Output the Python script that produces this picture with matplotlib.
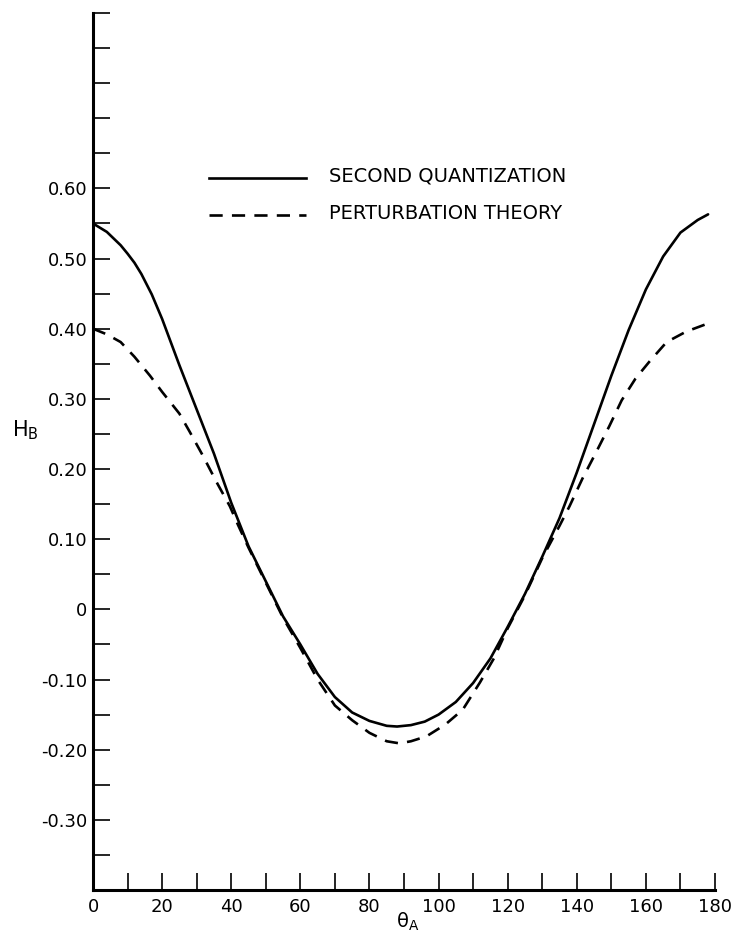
import matplotlib
matplotlib.use("Agg")
import matplotlib.pyplot as plt
import numpy as np

# ---- data ----
theta_sq = [0, 4, 8, 10, 12, 14, 17, 20, 25, 30, 35, 40, 45, 50, 55, 60, 65, 70, 75,
            80, 85, 88, 92, 96, 100, 105, 110, 115, 120, 125, 130, 135, 140, 145, 150,
            155, 160, 165, 170, 175, 178]
h_sq = [0.550, 0.538, 0.519, 0.507, 0.494, 0.478, 0.449, 0.414, 0.348, 0.285, 0.222,
        0.152, 0.090, 0.040, -0.010, -0.050, -0.092, -0.125, -0.147, -0.159, -0.166,
        -0.167, -0.165, -0.160, -0.150, -0.132, -0.105, -0.070, -0.025, 0.022, 0.075,
        0.130, 0.195, 0.264, 0.333, 0.398, 0.456, 0.503, 0.537, 0.555, 0.563]

theta_pt = [0, 4, 8, 12, 16.5, 20, 25, 28, 31.8, 35.8, 39.6, 42, 45, 50, 55, 60, 65,
            70, 75, 80, 85, 88.7, 92, 96.5, 102, 107, 112, 116, 120, 125, 130, 135,
            137.9, 141.6, 145.6, 149.4, 153, 157, 161, 166, 171.7, 177.7]
h_pt = [0.400, 0.392, 0.381, 0.360, 0.333, 0.310, 0.279, 0.253, 0.219, 0.181, 0.147,
        0.120, 0.088, 0.038, -0.012, -0.055, -0.100, -0.137, -0.158, -0.176, -0.188,
        -0.191, -0.188, -0.181, -0.164, -0.143, -0.104, -0.070, -0.027, 0.020, 0.073,
        0.119, 0.147, 0.186, 0.224, 0.261, 0.298, 0.329, 0.353, 0.381, 0.396, 0.407]

x_major = list(range(0, 181, 20))
x_minor = list(range(10, 181, 20))
y_labeled = [-0.30, -0.20, -0.10, 0.0, 0.10, 0.20, 0.30, 0.40, 0.50, 0.60]
y_label_text = ["-0.30", "-0.20", "-0.10", "0", "0.10", "0.20", "0.30", "0.40", "0.50", "0.60"]
y_minor = [-0.35, -0.25, -0.15, -0.05, 0.05, 0.15, 0.25, 0.35, 0.45, 0.55,
           0.65, 0.70, 0.75, 0.80, 0.85]

series_names = ["SECOND QUANTIZATION", "PERTURBATION THEORY"]

plt.rcParams["font.family"] = ["DejaVu Sans"]
plt.rcParams["mathtext.fontset"] = "dejavusans"

W, H = 731, 934
fig = plt.figure(figsize=(W / 100, H / 100), dpi=100)
ax = fig.add_axes([93 / W, 1 - 890 / H, (715 - 93) / W, (890 - 13) / H])

ax.plot(theta_sq, h_sq, color="black", lw=1.9, solid_capstyle="round", solid_joinstyle="round")
ax.plot(theta_pt, h_pt, color="black", lw=1.9, dashes=(5, 3.5))

ax.set_xlim(0, 180)
ax.set_ylim(-0.40, 0.85)

for s in ["top", "right"]:
    ax.spines[s].set_visible(False)
for s in ["left", "bottom"]:
    ax.spines[s].set_linewidth(2.2)

ax.set_xticks(x_major)
ax.set_xticks(x_minor, minor=True)
ax.set_xticklabels([str(v) for v in x_major])
ax.set_yticks(y_labeled)
ax.set_yticklabels(y_label_text)
ax.set_yticks(y_minor, minor=True)

ax.tick_params(which="both", direction="in", length=12.5, width=1.2, color="black")
ax.tick_params(axis="x", which="major", pad=6, labelsize=13)
ax.tick_params(axis="y", which="major", pad=4, labelsize=13)

# legend drawn as lines + text in axes data coordinates
lx0, lx1 = 33.6, 61.6
ax.plot([lx0, lx1], [0.615, 0.615], color="black", lw=1.9, clip_on=False)
ax.plot([lx0, lx1], [0.5625, 0.5625], color="black", lw=1.9, dashes=(5, 3.5), clip_on=False)
ax.text(68.3, 0.617, series_names[0], fontsize=14, va="center", ha="left")
ax.text(68.3, 0.564, series_names[1], fontsize=14, va="center", ha="left")

fig.text(25 / W, 1 - 430 / H, r"H$_\mathrm{B}$", fontsize=15, ha="center", va="center")
fig.text(408 / W, 1 - 922 / H, r"θ$_\mathrm{A}$", fontsize=14, ha="center", va="center")

fig.savefig("out.png", dpi=100)
